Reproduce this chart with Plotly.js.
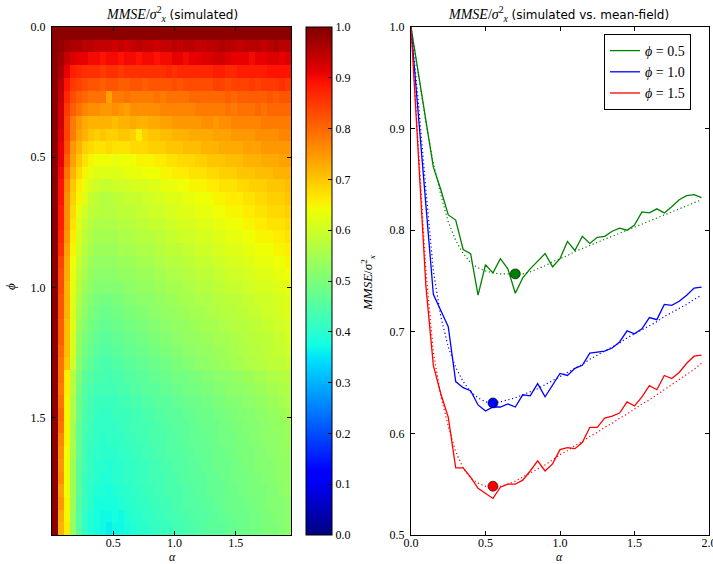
<!DOCTYPE html>
<html>
<head>
<meta charset="utf-8">
<script src="https://cdn.plot.ly/plotly-3.0.1.min.js"></script>
<style>html,body{margin:0;padding:0;background:#fff;}#chart{width:713px;height:564px;}</style>
</head>
<body>
<div id="chart"></div>
<script>
// ---------- DATA ----------
const alpha = [0,0.05,0.1,0.15,0.2,0.25,0.3,0.35,0.4,0.45,0.5,0.55,0.6,0.65,0.7,0.75,0.8,0.85,0.9,0.95,
               1.0,1.05,1.1,1.15,1.2,1.25,1.3,1.35,1.4,1.45,1.5,1.55,1.6,1.65,1.7,1.75,1.8,1.85,1.9,1.95];
const phi = [0,0.05,0.1,0.15,0.2,0.25,0.3,0.35,0.4,0.45,0.5,0.55,0.6,0.65,0.7,0.75,0.8,0.85,0.9,0.95,
             1.0,1.05,1.1,1.15,1.2,1.25,1.3,1.35,1.4,1.45,1.5,1.55,1.6,1.65,1.7,1.75,1.8,1.85,1.9,1.95];

// simulated MMSE/sigma_x^2 (in %) : rows = phi, columns = alpha
const mmseSimPct = [
[99,99,99,99,99,99,99,99,99,99,99,99,99,99,99,99,99,99,99,99,99,99,99,99,99,99,99,99,99,99,99,99,99,99,99,99,99,99,99,99],
[99,98,97,96,96,95,95,94,94,94,93,94,93,94,95,94,94,93,94,94,95,94,95,95,94,94,95,95,96,95,95,94,95,95,95,94,95,96,95,95],
[99,97,94,92,91,91,90,90,89,90,90,89,90,90,89,90,90,89,90,90,91,91,90,91,91,92,92,93,93,92,91,91,91,90,91,91,92,92,91,92],
[99,96,91,88,87,86,86,86,85,86,86,85,86,86,86,86,86,86,86,87,86,87,87,87,87,87,87,88,88,87,87,88,88,88,88,88,89,89,89,89],
[99,95,89,85,84,83,82,82,81,82,82,81,81,82,82,81,82,82,82,82,83,82,83,83,83,83,83,84,84,83,84,84,84,85,84,85,85,85,86,85],
[99,94,87,83,81,80,79,79,79,74,78,78,79,78,78,78,78,79,78,79,79,79,79,80,80,80,80,80,80,81,80,81,81,81,81,81,82,81,82,82],
[99,93,85,81,79,77,76,76,75,75,76,75,74,76,76,76,76,76,77,77,77,77,77,77,78,78,78,78,78,79,78,79,79,79,80,79,80,80,80,80],
[99,93,84,78,75,73,72,72,72,72,71,72,72,73,72,72,73,73,74,74,75,75,75,75,75,76,76,75,76,76,77,77,77,77,77,78,78,78,78,78],
[99,92,84,78,74,72,70,69,70,69,69,70,70,69,66,69,70,70,71,71,72,72,72,73,73,73,73,74,74,74,75,75,75,75,76,76,76,76,77,77],
[99,91,83,75,72,69,68,67,67,68,67,67,67,68,68,68,69,69,69,70,70,70,71,71,71,72,72,72,73,73,73,73,74,74,74,75,75,75,75,75],
[99,91,81,74,70,67,65,64,64,64,63,64,64,64,65,65,65,66,66,67,67,68,68,68,69,69,70,70,70,71,71,71,72,72,72,73,73,73,74,74],
[99,90,79,72,68,65,63,62,62,62,62,62,63,63,63,64,64,64,65,65,66,66,66,67,67,67,68,68,69,69,69,70,70,70,71,71,71,72,72,72],
[99,89,77,70,66,63,61,60,59,59,60,60,60,61,61,61,62,62,63,63,63,64,64,65,65,65,66,66,67,67,67,68,68,69,69,69,70,70,70,71],
[99,89,76,69,65,62,59,58,57,57,58,58,59,59,59,60,60,61,61,62,62,62,63,63,64,64,64,65,65,66,66,66,67,67,68,68,69,69,69,70],
[99,88,76,68,63,60,58,58,57,57,57,58,58,58,59,59,60,60,60,61,61,62,62,62,63,63,63,64,64,65,65,65,66,66,67,67,68,68,68,69],
[99,88,76,67,62,59,57,56,56,56,56,57,57,57,58,58,59,59,59,60,60,61,61,61,62,62,62,63,63,64,64,64,65,65,66,66,67,67,67,68],
[99,87,75,66,61,58,56,55,55,55,55,56,56,56,57,57,57,58,58,59,59,60,60,60,61,61,61,62,62,63,63,63,64,64,65,65,65,66,66,67],
[99,86,74,65,60,57,55,54,54,54,54,55,55,55,56,56,56,57,57,58,58,58,59,59,60,60,60,61,61,62,62,62,63,63,64,64,64,65,65,66],
[99,84,73,64,59,56,54,53,53,53,53,54,54,54,55,55,55,56,56,57,57,57,58,58,59,59,59,60,60,61,61,61,62,62,63,63,63,64,64,65],
[99,83,73,63,58,55,53,52,52,52,52,53,53,53,54,54,54,55,55,56,56,56,57,57,58,58,58,59,59,60,60,60,61,61,62,62,62,63,63,64],
[99,83,72,63,57,54,52,51,51,51,51,51,52,52,53,53,53,54,54,55,55,55,56,56,57,57,57,58,58,59,59,59,60,60,61,61,61,62,62,63],
[99,82,72,62,56,53,51,50,49,49,50,50,51,51,52,52,52,53,53,54,54,55,55,55,56,56,56,57,57,58,58,58,59,59,60,60,60,61,61,62],
[99,82,72,62,55,52,50,49,48,48,49,49,50,50,51,51,52,52,53,53,53,54,54,55,55,55,56,56,57,57,57,58,58,59,59,60,60,60,61,62],
[99,81,71,62,54,51,49,48,47,47,48,48,49,49,50,50,51,51,52,52,53,53,53,54,54,55,55,55,56,56,57,57,57,58,58,59,59,60,60,61],
[99,81,71,61,53,50,48,47,46,46,47,47,48,48,49,49,50,50,51,51,52,52,53,53,53,54,54,55,55,55,56,56,57,57,58,58,58,59,59,61],
[99,80,71,61,52,49,47,46,45,45,46,46,47,47,48,48,49,49,50,50,51,51,52,52,53,53,53,54,54,55,55,56,56,57,57,58,58,59,59,60],
[99,79,70,60,51,48,46,45,44,44,45,45,46,46,47,47,48,48,49,49,50,50,51,51,52,52,53,53,54,54,55,55,56,56,57,57,58,58,58,59],
[99,79,66,57,50,46,45,44,44,43,44,44,45,45,46,46,47,47,48,48,49,49,49,50,50,51,51,52,52,52,53,53,54,54,55,55,56,56,57,57],
[99,78,66,57,49,45,44,43,43,43,43,44,44,45,45,46,46,46,47,47,48,48,49,49,49,50,50,51,51,52,52,52,53,53,54,54,55,55,56,56],
[99,79,65,56,48,45,43,42,42,42,42,43,43,44,44,45,45,46,46,46,47,47,48,48,48,49,49,50,50,51,51,51,52,52,53,53,54,54,55,56],
[99,80,65,56,48,44,43,42,41,41,42,42,42,43,43,44,44,45,45,46,46,46,47,47,48,48,48,49,49,50,50,51,51,51,52,52,53,53,54,55],
[99,79,65,55,47,44,42,41,41,41,41,42,42,43,43,43,44,44,45,45,46,46,46,47,47,48,48,48,49,49,50,50,51,51,51,52,52,53,53,54],
[99,77,65,55,47,43,42,41,40,41,41,41,42,42,43,43,44,44,44,45,45,46,46,47,47,47,48,48,49,49,49,50,50,51,51,52,52,52,53,54],
[99,76,64,55,47,43,41,41,40,40,40,41,41,42,42,43,43,44,44,45,45,45,46,46,47,47,47,48,48,49,49,50,50,50,51,51,52,52,53,53],
[99,75,64,54,46,43,41,40,40,39,40,40,41,41,42,42,43,43,44,44,45,45,45,46,46,47,47,48,48,48,49,49,50,50,51,51,51,52,52,53],
[99,76,64,54,46,42,41,40,39,39,40,40,41,41,42,42,43,43,43,44,44,45,45,46,46,46,47,47,48,48,49,49,49,50,50,51,51,52,52,53],
[99,74,64,54,46,42,40,39,39,38,39,40,40,41,41,42,42,43,43,44,44,44,45,45,46,46,47,47,47,48,48,49,49,50,50,50,51,51,52,53],
[99,75,65,54,45,42,40,38,38,38,38,39,40,40,41,41,42,42,43,43,44,44,45,45,45,46,46,47,47,48,48,48,49,49,50,50,51,51,51,52],
[99,73,65,53,45,41,39,38,37,37,38,37,39,40,40,41,41,42,42,43,43,44,44,45,45,45,46,46,47,47,48,48,48,49,49,50,50,51,51,52],
[99,72,66,53,45,41,39,38,37,36,37,37,38,39,40,40,41,41,42,42,43,43,44,44,45,45,46,46,46,47,47,48,48,49,49,50,50,50,51,52]
];

// right panel: simulated (solid) and mean-field (dotted) curves
const simPhi05 = [1.0,.954,.907,.862,.840,.815,.810,.781,.777,.736,.766,.758,.772,.762,.738,.753,.762,.769,.777,.764,
                  .772,.789,.780,.794,.787,.793,.794,.799,.802,.800,.805,.818,.817,.821,.817,.823,.830,.834,.835,.832];
const mfPhi05  = [1.0,.952,.906,.866,.835,.808,.790,.777,.768,.763,.760,.758,.757,.757,.756,.757,.759,.762,.765,.769,
                  .772,.775,.779,.782,.785,.788,.791,.794,.797,.800,.803,.806,.809,.812,.815,.818,.821,.824,.827,.830];
const simPhi10 = [1.0,.915,.825,.737,.721,.705,.651,.645,.642,.628,.622,.626,.626,.629,.626,.638,.637,.649,.636,.647,
                  .659,.657,.664,.667,.679,.680,.681,.684,.690,.701,.698,.703,.714,.712,.727,.726,.730,.736,.743,.744];
const mfPhi10  = [1.0,.925,.840,.760,.715,.685,.665,.651,.641,.635,.631,.630,.631,.633,.635,.638,.641,.644,.648,.652,
                  .656,.660,.664,.668,.673,.677,.681,.685,.689,.694,.698,.702,.706,.710,.715,.719,.723,.727,.732,.736];
const simPhi15 = [1.0,.870,.745,.667,.639,.616,.566,.566,.557,.546,.541,.536,.547,.550,.550,.554,.563,.573,.563,.570,
                  .584,.586,.585,.591,.606,.606,.615,.617,.620,.631,.627,.636,.647,.643,.657,.654,.660,.669,.676,.677];
const mfPhi15  = [1.0,.875,.760,.680,.637,.607,.582,.566,.556,.551,.548,.547,.548,.550,.553,.557,.561,.565,.569,.574,
                  .579,.583,.588,.592,.597,.601,.606,.610,.615,.619,.624,.629,.633,.638,.643,.648,.653,.658,.663,.669];

const seriesNames = ['0.5','1.0','1.5'];
const seriesColors = ['rgb(0,128,0)','rgb(0,0,255)','rgb(255,0,0)'];
const optAlpha = [0.70, 0.55, 0.55];
const optMmse  = [0.757, 0.630, 0.548];

const cbTicks = [0,0.1,0.2,0.3,0.4,0.5,0.6,0.7,0.8,0.9,1.0];
const hmXTicks = [0.5,1.0,1.5];
const hmYTicks = [0,0.5,1.0,1.5];
const rXTicks = [0,0.5,1.0,1.5,2.0];
const rYTicks = [0.5,0.6,0.7,0.8,0.9,1.0];

// ---------- BUILD ----------
const W = 713, H = 564;
const px = v => v / W;
const py = v => 1 - v / H;

const z = mmseSimPct.map(r => r.map(v => v / 100));
const aSpan = alpha[alpha.length - 1], pSpan = phi[phi.length - 1];
const adx = aSpan / alpha.length, pdy = pSpan / phi.length;

const jet = [
  [0,'rgb(0,0,128)'],[0.11,'rgb(0,0,255)'],[0.125,'rgb(0,0,255)'],
  [0.34,'rgb(0,219,255)'],[0.35,'rgb(0,229,247)'],[0.375,'rgb(20,255,226)'],
  [0.64,'rgb(239,255,4)'],[0.65,'rgb(247,245,0)'],[0.66,'rgb(255,236,0)'],
  [0.89,'rgb(255,19,0)'],[0.91,'rgb(232,0,0)'],[1,'rgb(128,0,0)']
];

const serif = 'Liberation Serif, DejaVu Serif, serif';
const tickFont = {family: serif, size: 12, color: '#000'};
const PHI = 'ϕ';

const traces = [];
traces.push({
  type: 'heatmap', z: z, x0: adx / 2, dx: adx, y0: pdy / 2, dy: pdy,
  xaxis: 'x', yaxis: 'y', colorscale: jet, zmin: 0, zmax: 1, zsmooth: false,
  showscale: true, hoverinfo: 'skip',
  colorbar: {
    x: px(306), xanchor: 'left', xpad: 0, y: py(535), yanchor: 'bottom', ypad: 0,
    len: 508 / H, lenmode: 'fraction', thickness: 26, thicknessmode: 'pixels',
    outlinewidth: 1, outlinecolor: '#000', borderwidth: 0,
    tickmode: 'array', tickvals: cbTicks, ticktext: cbTicks.map(v => v.toFixed(1)),
    ticks: 'inside', ticklen: 4, tickcolor: '#000', tickwidth: 1, tickfont: tickFont
  }
});

const sims = [simPhi05, simPhi10, simPhi15];
const mfs = [mfPhi05, mfPhi10, mfPhi15];
for (let k = 0; k < 3; k++) {
  traces.push({
    type: 'scatter', mode: 'lines', x: alpha, y: sims[k], xaxis: 'x2', yaxis: 'y2',
    name: '<i>' + PHI + '</i> = ' + seriesNames[k], line: {color: seriesColors[k], width: 1.3},
    showlegend: true, hoverinfo: 'skip'
  });
}
for (let k = 0; k < 3; k++) {
  traces.push({
    type: 'scatter', mode: 'lines', x: alpha, y: mfs[k], xaxis: 'x2', yaxis: 'y2',
    line: {color: seriesColors[k], width: 1.2, dash: '1.2px,2.6px'},
    showlegend: false, hoverinfo: 'skip'
  });
}
for (let k = 0; k < 3; k++) {
  traces.push({
    type: 'scatter', mode: 'markers', x: [optAlpha[k]], y: [optMmse[k]], xaxis: 'x2', yaxis: 'y2',
    marker: {color: seriesColors[k], size: 10, line: {color: '#000', width: 0.6}},
    showlegend: false, hoverinfo: 'skip'
  });
}

const axisCommon = {
  showline: true, linecolor: '#000', linewidth: 1, mirror: 'ticks',
  ticks: 'inside', ticklen: 4, tickwidth: 1, tickcolor: '#000',
  showgrid: false, zeroline: false, tickfont: tickFont, fixedrange: true, layer: 'above traces'
};

const mathLabel = '<i>MMSE</i>/<i>σ</i><sup>2</sup><sub><i>x</i></sub>';

const layout = {
  width: W, height: H, margin: {l: 0, r: 0, t: 0, b: 0},
  paper_bgcolor: '#fff', plot_bgcolor: '#fff', showlegend: true,
  xaxis: Object.assign({}, axisCommon, {
    domain: [px(52), px(291)], range: [0, aSpan], anchor: 'y',
    tickmode: 'array', tickvals: hmXTicks, ticktext: hmXTicks.map(v => v.toFixed(1)),
    ticklabelstandoff: -3
  }),
  yaxis: Object.assign({}, axisCommon, {
    domain: [py(535), py(27)], range: [pSpan, 0], anchor: 'x',
    tickmode: 'array', tickvals: hmYTicks, ticktext: hmYTicks.map(v => v.toFixed(1)),
    ticklabelstandoff: 3
  }),
  xaxis2: Object.assign({}, axisCommon, {
    domain: [px(411), px(709)], range: [0, 2], anchor: 'y2',
    tickmode: 'array', tickvals: rXTicks, ticktext: rXTicks.map(v => v.toFixed(1)),
    ticklabeloverflow: 'allow', ticklabelstandoff: -3
  }),
  yaxis2: Object.assign({}, axisCommon, {
    domain: [py(535), py(27)], range: [0.5, 1.0], anchor: 'x2',
    tickmode: 'array', tickvals: rYTicks, ticktext: rYTicks.map(v => v.toFixed(1)),
    ticklabelstandoff: 3
  }),
  legend: {
    x: px(604), xanchor: 'left', y: py(34), yanchor: 'top',
    bgcolor: '#fff', bordercolor: '#000', borderwidth: 1,
    font: {family: serif, size: 14, color: '#000'}, itemwidth: 30, tracegroupgap: 0
  },
  annotations: [
    {xref: 'paper', yref: 'paper', x: px(172), y: py(14), xanchor: 'center', yanchor: 'middle', showarrow: false,
     font: {family: serif, size: 14, color: '#000'},
     text: mathLabel + ' <span style="font-family:DejaVu Sans;font-size:12px">(simulated)</span>'},
    {xref: 'paper', yref: 'paper', x: px(558), y: py(14), xanchor: 'center', yanchor: 'middle', showarrow: false,
     font: {family: serif, size: 14, color: '#000'},
     text: mathLabel + ' <span style="font-family:DejaVu Sans;font-size:12px">(simulated vs. mean-field)</span>'},
    {xref: 'paper', yref: 'paper', x: px(172), y: py(557), xanchor: 'center', yanchor: 'middle', showarrow: false,
     font: {family: serif, size: 12, color: '#000'}, text: '<i>α</i>'},
    {xref: 'paper', yref: 'paper', x: px(559), y: py(557), xanchor: 'center', yanchor: 'middle', showarrow: false,
     font: {family: serif, size: 12, color: '#000'}, text: '<i>α</i>'},
    {xref: 'paper', yref: 'paper', x: px(10), y: py(287), xanchor: 'center', yanchor: 'middle', showarrow: false,
     textangle: -90, font: {family: serif, size: 13, color: '#000'}, text: '<i>' + PHI + '</i>'},
    {xref: 'paper', yref: 'paper', x: px(368), y: py(283), xanchor: 'center', yanchor: 'middle', showarrow: false,
     textangle: -90, font: {family: serif, size: 13, color: '#000'}, text: mathLabel}
  ]
};

Plotly.newPlot('chart', traces, layout, {staticPlot: true, displayModeBar: false});
</script>
</body>
</html>
